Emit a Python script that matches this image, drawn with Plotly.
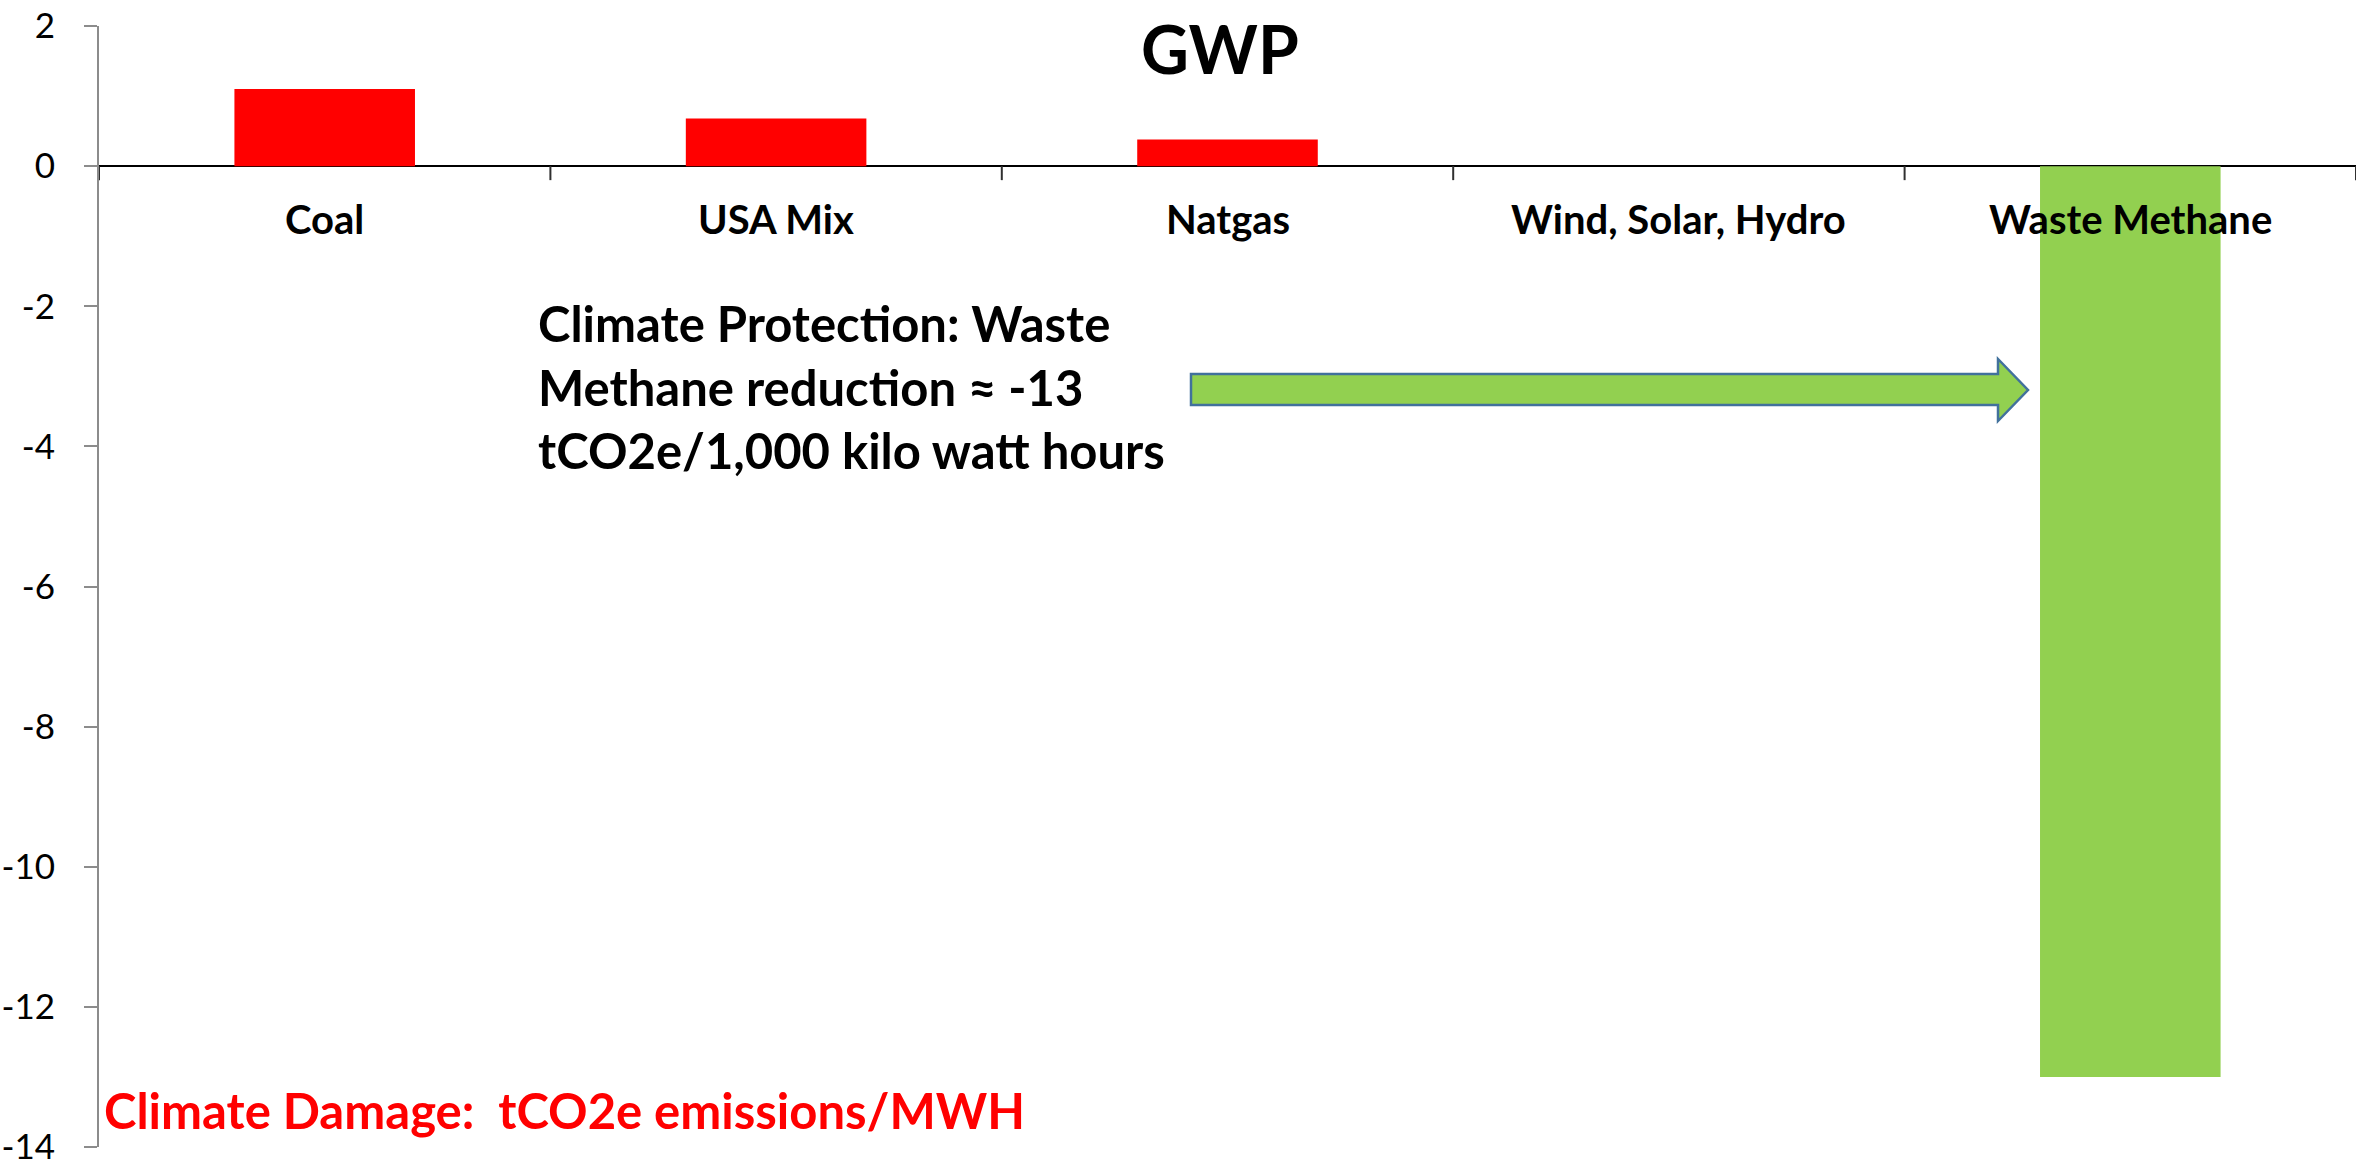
import plotly.graph_objects as go

categories = ["Coal", "USA Mix", "Natgas", "Wind, Solar, Hydro", "Waste Methane"]
values = [1.10, 0.68, 0.38, 0.0, -13.0]
bar_colors = ["#FF0000", "#FF0000", "#FF0000", "#FF0000", "#92D050"]
y_ticks = [2, 0, -2, -4, -6, -8, -10, -12, -14]
y_ticktext = ["2", "0", "-2", "-4", "-6", "-8", "-10", "-12", "-14"]

FONT = "Lato"
W, H = 2359, 1168
ML, MR, MT, MB = 99, 3, 26, 21
PW, PH = W - ML - MR, H - MT - MB


def px_x(p):
    return (p - ML) / PW


def px_y(p):
    return (H - MB - p) / PH


fig = go.Figure()
fig.add_trace(go.Bar(
    x=categories, y=values, marker=dict(color=bar_colors, line=dict(width=0)),
    width=0.4, showlegend=False, hoverinfo="x+y",
))

fig.update_layout(
    width=W, height=H,
    margin=dict(l=ML, r=MR, t=MT, b=MB, pad=0, autoexpand=False),
    plot_bgcolor="white", paper_bgcolor="white",
    font=dict(family=FONT, color="black"),
    xaxis=dict(range=[-0.5, 4.5], showticklabels=False, showline=False,
               showgrid=False, zeroline=False, ticks="", automargin=False),
    yaxis=dict(range=[-14, 2], tickvals=y_ticks, ticktext=y_ticktext, showgrid=False,
               zeroline=True, zerolinecolor="black", zerolinewidth=2,
               showline=True, linecolor="#8C8C8C", linewidth=2,
               ticks="outside", ticklen=13, tickwidth=2, tickcolor="#8C8C8C",
               tickfont=dict(family=FONT, size=35, color="black"),
               ticklabelstandoff=22, ticklabeloverflow="allow", automargin=False),
)

# category labels under the zero line
for c in categories:
    fig.add_annotation(x=c, y=0, xref="x", yref="y", text="<b>%s</b>" % c,
                       showarrow=False, yanchor="middle", yshift=-53,
                       font=dict(family=FONT, size=40, color="black"))

# category boundary tick marks on the zero line
for k in range(len(categories) + 1):
    fig.add_shape(type="line", xref="x", yref="y", x0=k - 0.5, x1=k - 0.5,
                  y0=0, y1=-0.2, line=dict(color="#303030", width=2))

# title
fig.add_annotation(x=px_x(1220), y=px_y(48.5), xref="paper", yref="paper",
                   text="<b>GWP</b>", showarrow=False, xanchor="center", yanchor="middle",
                   font=dict(family=FONT, size=66, color="black"))

# callout text
fig.add_annotation(x=px_x(536), y=px_y(386), xref="paper", yref="paper",
                   text="<b>Climate Protection: Waste<br>Methane reduction ≈ -13<br>tCO2e/1,000 kilo watt hours</b>",
                   showarrow=False, xanchor="left", yanchor="middle", align="left",
                   font=dict(family=FONT, size=49, color="black"))

# block arrow (pixel geometry of the callout arrow)
bx0, bx1, tipx = px_x(1191), px_x(1998), px_x(2028)
by0, by1, hy0, hy1, tipy = px_y(374), px_y(405), px_y(359), px_y(421), px_y(390)
path = (f"M {bx0},{by0} L {bx1},{by0} L {bx1},{hy0} L {tipx},{tipy} "
        f"L {bx1},{hy1} L {bx1},{by1} L {bx0},{by1} Z")
fig.add_shape(type="path", xref="paper", yref="paper", path=path,
              fillcolor="#92D050", line=dict(color="#41719C", width=2.5))

# red footer label
fig.add_annotation(x=px_x(102), y=px_y(1110), xref="paper", yref="paper",
                   text="<b>Climate Damage:  tCO2e emissions/MWH</b>",
                   showarrow=False, xanchor="left", yanchor="middle",
                   font=dict(family=FONT, size=49, color="#FF0000"))

fig.write_html("out.html", config={"displayModeBar": False},
               post_script="document.body.style.margin='0';document.body.style.overflow='hidden';")
